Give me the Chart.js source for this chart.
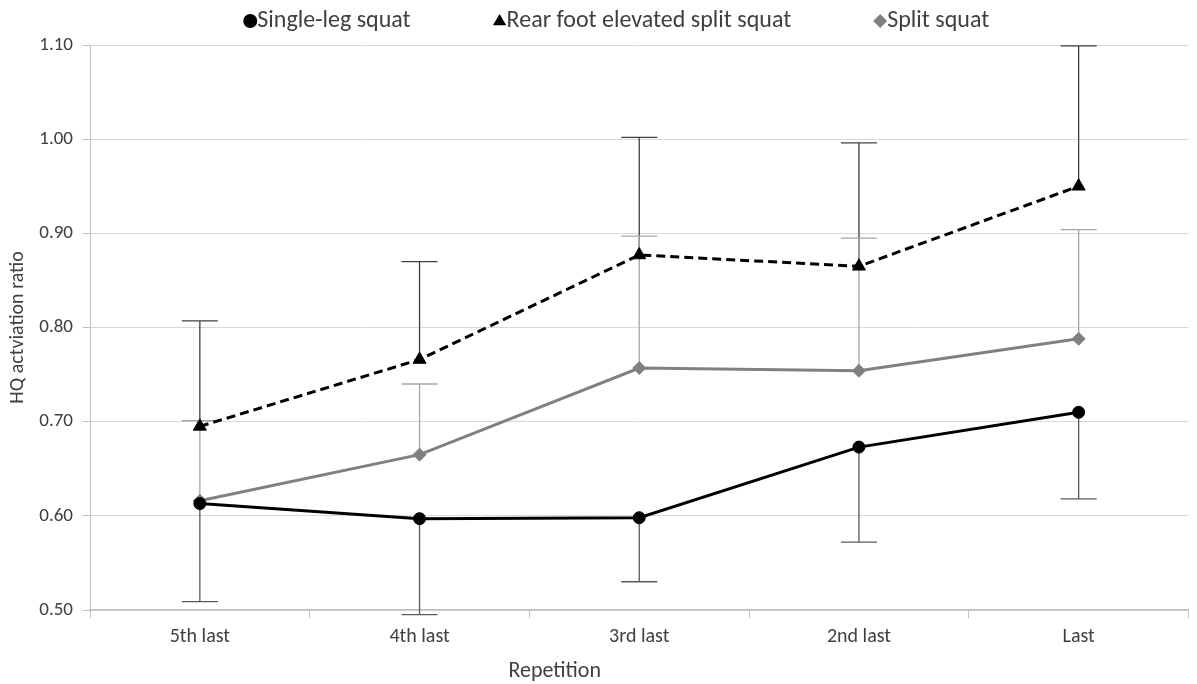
<!DOCTYPE html>
<html><head><meta charset="utf-8">
<script src="https://cdn.jsdelivr.net/npm/chart.js@4.4.0/dist/chart.umd.min.js"></script>
<style>html,body{margin:0;padding:0;background:#fff;}#wrap{width:1197px;height:684px;position:relative;}</style>
</head><body><div id="wrap"><canvas id="c"></canvas></div>
<script>
const categories = ['5th last', '4th last', '3rd last', '2nd last', 'Last'];
const singleLeg = [0.613, 0.597, 0.598, 0.673, 0.710];
const singleLegLower = [0.509, 0.495, 0.530, 0.572, 0.618];
const rearFoot = [0.695, 0.766, 0.877, 0.865, 0.950];
const rearFootUpper = [0.807, 0.870, 1.002, 0.996, 1.099];
const splitSquat = [0.616, 0.665, 0.757, 0.754, 0.788];
const splitSquatUpper = [0.701, 0.740, 0.897, 0.895, 0.904];
const yTicks = [0.50, 0.60, 0.70, 0.80, 0.90, 1.00, 1.10];
const seriesNames = ['Single-leg squat', 'Rear foot elevated split squat', 'Split squat'];
const xTitle = 'Repetition';
const yTitle = 'HQ actviation ratio';

const FAMILY = 'Carlito, Lato, "Open Sans", sans-serif';
const TEXT = '#404040';

const errorBarPlugin = {
  id: 'errorBars',
  beforeDatasetsDraw(chart) {
    const ctx = chart.ctx;
    const y = chart.scales.y;
    chart.data.datasets.forEach((ds, di) => {
      if (!ds.errorTo) return;
      const meta = chart.getDatasetMeta(di);
      ctx.save();
      ctx.strokeStyle = ds.errorColor;
      ctx.lineWidth = 1.3;
      meta.data.forEach((pt, i) => {
        const x = pt.x;
        const y0 = pt.y;
        const y1 = y.getPixelForValue(ds.errorTo[i]);
        ctx.beginPath();
        ctx.moveTo(x, y0); ctx.lineTo(x, y1);
        ctx.moveTo(x - 18, y1); ctx.lineTo(x + 18, y1);
        ctx.stroke();
      });
      ctx.restore();
    });
  }
};

function drawMarker(ctx, style, r, x, y) {
  ctx.beginPath();
  if (style === 'circle') {
    ctx.arc(x, y, r, 0, Math.PI * 2);
  } else if (style === 'triangle') {
    ctx.moveTo(x, y - r);
    ctx.lineTo(x + r * 0.95, y + r * 0.6);
    ctx.lineTo(x - r * 0.95, y + r * 0.6);
    ctx.closePath();
  } else {
    ctx.moveTo(x, y - r); ctx.lineTo(x + r, y); ctx.lineTo(x, y + r); ctx.lineTo(x - r, y); ctx.closePath();
  }
  ctx.fill();
}

const legendPlugin = {
  id: 'customLegend',
  afterDraw(chart) {
    const ctx = chart.ctx;
    ctx.save();
    ctx.font = '24px ' + FAMILY;
    ctx.textBaseline = 'middle';
    ctx.textAlign = 'left';
    const items = chart.data.datasets.map(ds => ({ ds, w: ctx.measureText(ds.label).width }));
    const markerW = 12, gap = 84;
    const total = items.reduce((a, it) => a + markerW + it.w, 0) + gap * (items.length - 1);
    const ca = chart.chartArea;
    let x = (ca.left + ca.right) / 2 - 22 - total / 2;
    const yy = 21;
    items.forEach(it => {
      ctx.fillStyle = it.ds.pointBackgroundColor;
      drawMarker(ctx, it.ds.pointStyle, 7, x + 5, yy);
      ctx.fillStyle = TEXT;
      ctx.fillText(it.ds.label, x + markerW, yy);
      x += markerW + it.w + gap;
    });
    // x axis title
    ctx.font = '22px ' + FAMILY;
    ctx.textAlign = 'center';
    ctx.fillStyle = TEXT;
    ctx.fillText(xTitle, ca.left + (ca.right - ca.left) * 0.423, 671);
    ctx.restore();
  }
};

new Chart(document.getElementById('c'), {
  type: 'line',
  data: {
    labels: categories,
    datasets: [
      {
        label: seriesNames[0], data: singleLeg, errorTo: singleLegLower, errorColor: '#595959',
        borderColor: '#000000', backgroundColor: '#000000', borderWidth: 3,
        pointStyle: 'circle', pointRadius: 6, pointBackgroundColor: '#000000', pointBorderColor: '#000000', pointBorderWidth: 1,
        tension: 0
      },
      {
        label: seriesNames[1], data: rearFoot, errorTo: rearFootUpper, errorColor: '#404040',
        borderColor: '#000000', backgroundColor: '#000000', borderWidth: 3, borderDash: [9, 5],
        pointStyle: 'triangle', pointRadius: 7.5, pointBackgroundColor: '#000000', pointBorderColor: '#000000', pointBorderWidth: 1,
        tension: 0
      },
      {
        label: seriesNames[2], data: splitSquat, errorTo: splitSquatUpper, errorColor: '#a6a6a6',
        borderColor: '#808080', backgroundColor: '#808080', borderWidth: 3,
        pointStyle: 'rectRot', pointRadius: 6.5, pointBackgroundColor: '#808080', pointBorderColor: '#808080', pointBorderWidth: 1,
        tension: 0
      }
    ]
  },
  options: {
    responsive: true, maintainAspectRatio: false, animation: false, devicePixelRatio: 1,
    layout: { padding: { top: 45, left: 0, right: 0, bottom: 0 } },
    plugins: { legend: { display: false }, tooltip: { enabled: false } },
    scales: {
      x: {
        offset: true,
        grid: { offset: true, drawOnChartArea: false, drawTicks: true, tickLength: 8, color: '#bfbfbf' },
        border: { color: '#bfbfbf', width: 1.5 },
        ticks: { color: TEXT, font: { size: 20, family: FAMILY }, padding: 7, maxRotation: 0 },
        afterFit: s => { s.height = 74; }
      },
      y: {
        min: 0.5, max: 1.1,
        afterBuildTicks: s => { s.ticks = yTicks.map(v => ({ value: v })); },
        ticks: { color: TEXT, font: { size: 19, family: FAMILY }, padding: 10, callback: v => Number(v).toFixed(2) },
        grid: { color: '#d9d9d9', lineWidth: 1, tickLength: 7, tickColor: '#bfbfbf', drawTicks: true },
        border: { color: '#bfbfbf', width: 1 },
        title: { display: true, text: yTitle, color: TEXT, font: { size: 20, family: FAMILY }, padding: { top: 6, bottom: 0 } },
        afterFit: s => { s.width = 90; }
      }
    }
  },
  plugins: [errorBarPlugin, legendPlugin]
});
</script>
</body></html>
